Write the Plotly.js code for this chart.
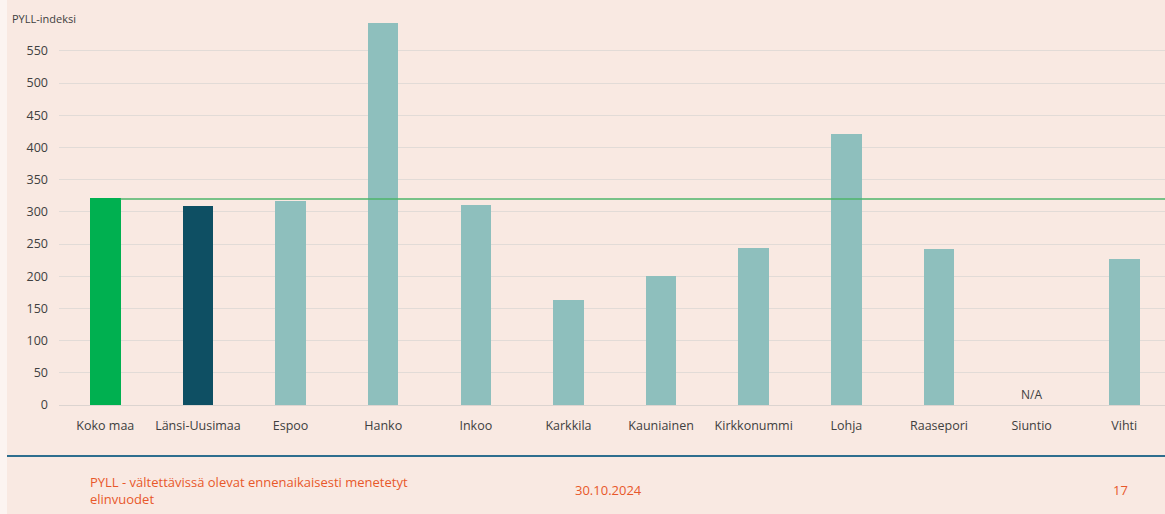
<!DOCTYPE html>
<html>
<head>
<meta charset="utf-8">
<script src="https://cdn.plot.ly/plotly-3.0.1.min.js"></script>
<style>
  html, body { margin: 0; padding: 0; background: #FCF4F1; }
  #graph { margin-left: 7px; width: 1158px; height: 514px; }
</style>
</head>
<body>
<div id="graph"></div>
<script>
// データ
const alueet = ["Koko maa", "Länsi-Uusimaa", "Espoo", "Hanko", "Inkoo", "Karkkila",
  "Kauniainen", "Kirkkonummi", "Lohja", "Raasepori", "Siuntio", "Vihti"];
const pyll = [322, 309, 317, 594, 311, 163, 200, 244, 421, 242, null, 227];
const puuttuu = ["Siuntio"];
const yTicks = [0, 50, 100, 150, 200, 250, 300, 350, 400, 450, 500, 550];
const kokoMaaTaso = 320;

// värit
const barColors = alueet.map((a, i) => i === 0 ? "#00B050" : (i === 1 ? "#0E4F63" : "#8EBFBD"));

const trace = {
  x: alueet,
  y: pyll,
  type: "bar",
  width: 0.33,
  marker: { color: barColors },
  hoverinfo: "x+y",
};

// N/A merkinnät
const naAnnot = puuttuu.map(a => ({
  x: a, y: 0, xref: "x", yref: "y",
  text: "N/A", showarrow: false, yanchor: "bottom", yshift: 0,
  font: { size: 12, color: "#404040" },
}));

const footColor = "#E8582A";
const layout = {
  width: 1158,
  height: 514,
  margin: { l: 52, r: 0, t: 20, b: 109 },
  paper_bgcolor: "#F9E9E2",
  plot_bgcolor: "#F9E9E2",
  font: { family: "Open Sans, sans-serif", color: "#595959", size: 12.5 },
  showlegend: false,
  bargap: 0,
  xaxis: {
    type: "category",
    range: [-0.5, 11.44],
    showgrid: false,
    zeroline: false,
    showline: false,
    ticks: "",
    ticklabelstandoff: 11,
    tickfont: { size: 12.5, color: "#404040" },
    fixedrange: true,
  },
  yaxis: {
    range: [0, 598],
    tickvals: yTicks,
    showgrid: true,
    gridcolor: "#E2DBD7",
    gridwidth: 1,
    zeroline: true,
    zerolinecolor: "#DCD4D0",
    ticks: "",
    ticklabelstandoff: 10,
    tickfont: { size: 12.5, color: "#404040" },
    fixedrange: true,
  },
  shapes: [
    // Koko maa -taso
    { type: "line", xref: "x", yref: "y", x0: 0.165, x1: 11.5, y0: kokoMaaTaso, y1: kokoMaaTaso,
      line: { color: "#4DB56A", width: 1.5 } },
    // alaviiva
    { type: "line", xref: "paper", yref: "paper", x0: -52 / 1106, x1: 1.01, y0: -51 / 385, y1: -51 / 385,
      line: { color: "#2E6E8E", width: 2 } },
  ],
  annotations: naAnnot.concat([
    { xref: "paper", yref: "paper", x: -49 / 1106, y: 1 + 2 / 385, xanchor: "left", yanchor: "middle",
      text: "PYLL-indeksi", showarrow: false, font: { size: 11, color: "#404040" } },
    { xref: "paper", yref: "paper", x: 29 / 1106, y: -85 / 385, xanchor: "left", yanchor: "middle", align: "left",
      text: "PYLL - vältettävissä olevat ennenaikaisesti menetetyt<br>elinvuodet", showarrow: false,
      font: { size: 13, color: footColor } },
    { xref: "paper", yref: "paper", x: 549 / 1106, y: -85 / 385, xanchor: "center", yanchor: "middle",
      text: "30.10.2024", showarrow: false, font: { size: 13, color: footColor } },
    { xref: "paper", yref: "paper", x: 1061 / 1106, y: -85 / 385, xanchor: "center", yanchor: "middle",
      text: "17", showarrow: false, font: { size: 13, color: footColor } },
  ]),
};

Plotly.newPlot("graph", [trace], layout, { displayModeBar: false, staticPlot: true });
</script>
</body>
</html>
